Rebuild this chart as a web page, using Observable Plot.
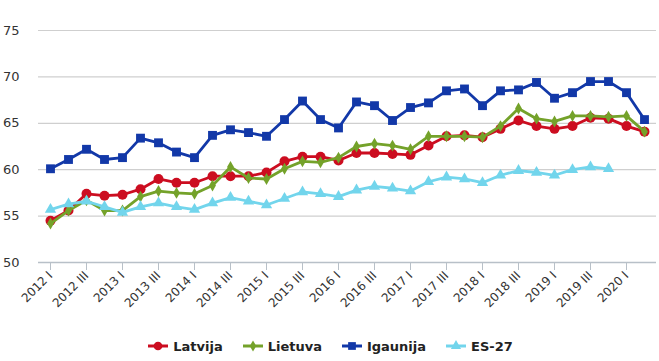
<!DOCTYPE html>
<html>
<head>
<meta charset="utf-8">
<script src="https://cdn.jsdelivr.net/npm/d3@7"></script>
<script src="https://cdn.jsdelivr.net/npm/@observablehq/plot@0.6"></script>
<style>
  html, body { margin: 0; padding: 0; background: #fff; }
  #chart { width: 659px; }
  .legend { display: flex; justify-content: center; align-items: center; gap: 20px; height: 36px; margin-top: 3px;
    font-family: "DejaVu Sans", sans-serif; font-weight: bold; font-size: 13px; color: #222; padding-left: 2px; }
  .legend .item { display: flex; align-items: center; gap: 5px; }
</style>
</head>
<body>
<div id="chart"></div>
<script>
const quarters = [
  "2012 I","2012 II","2012 III","2012 IV",
  "2013 I","2013 II","2013 III","2013 IV",
  "2014 I","2014 II","2014 III","2014 IV",
  "2015 I","2015 II","2015 III","2015 IV",
  "2016 I","2016 II","2016 III","2016 IV",
  "2017 I","2017 II","2017 III","2017 IV",
  "2018 I","2018 II","2018 III","2018 IV",
  "2019 I","2019 II","2019 III","2019 IV",
  "2020 I","2020 II"
];
const tickLabels = ["2012 I","2012 III","2013 I","2013 III","2014 I","2014 III","2015 I","2015 III","2016 I","2016 III","2017 I","2017 III","2018 I","2018 III","2019 I","2019 III","2020 I"];
const yTicks = [50, 55, 60, 65, 70, 75];

const latvija  = [54.5,55.6,57.4,57.2,57.3,57.9,59.0,58.6,58.6,59.3,59.3,59.3,59.7,60.9,61.4,61.4,61.0,61.8,61.8,61.7,61.6,62.6,63.6,63.7,63.5,64.4,65.3,64.7,64.4,64.7,65.6,65.5,64.7,64.1];
const lietuva  = [54.2,55.6,56.7,55.6,55.6,57.1,57.7,57.5,57.4,58.3,60.3,59.1,59.0,60.1,60.9,60.8,61.3,62.5,62.8,62.6,62.2,63.6,63.6,63.6,63.5,64.7,66.6,65.5,65.2,65.8,65.8,65.7,65.8,64.1];
const igaunija = [60.1,61.1,62.2,61.1,61.3,63.4,62.9,61.9,61.3,63.7,64.3,64.0,63.6,65.4,67.4,65.4,64.5,67.3,66.9,65.3,66.7,67.2,68.5,68.7,66.9,68.5,68.6,69.4,67.7,68.3,69.5,69.5,68.3,65.4];
const es27     = [55.7,56.3,56.6,56.0,55.4,56.0,56.4,56.0,55.7,56.4,57.0,56.6,56.2,56.9,57.6,57.4,57.1,57.8,58.2,58.0,57.7,58.7,59.2,59.0,58.6,59.4,59.9,59.7,59.4,60.0,60.3,60.1];

const seriesNames = ["Latvija", "Lietuva", "Igaunija", "ES-27"];
const seriesValues = [latvija, lietuva, igaunija, es27];
const colors = ["#cc0d20", "#74a22a", "#1238a8", "#72d5ec"];
const symbols = ["circle", "diamond", "square", "triangle"];
const symbolR = [5, 3.6, 5, 4.2];

const seriesRows = seriesNames.map((name, s) =>
  seriesValues[s].map((v, i) => ({ series: name, q: quarters[i], v })));

const lineMarks = [];
seriesRows.forEach((data, s) => {
  lineMarks.push(Plot.line(data, { x: "q", y: "v", stroke: colors[s], strokeWidth: 2.8 }));
  lineMarks.push(Plot.dot(data, { x: "q", y: "v", fill: colors[s], symbol: symbols[s], r: symbolR[s], stroke: null }));
});

const chart = Plot.plot({
  width: 659,
  height: 325,
  marginLeft: 38,
  marginRight: 3,
  marginTop: 30,
  marginBottom: 63,
  style: { fontFamily: "DejaVu Sans, sans-serif", fontSize: "12px", color: "#333", background: "#fff" },
  x: { type: "point", domain: quarters, padding: 0.44 },
  y: { domain: [50, 75] },
  marks: [
    Plot.ruleY(yTicks.filter(d => d > 50), { stroke: "#cfcfcf", strokeWidth: 1.2 }),
    Plot.ruleY([50], { stroke: "#b8c0c8", strokeWidth: 1.5 }),
    Plot.axisX({ ticks: tickLabels, tickRotate: -45, tickSize: 8, tickPadding: 3, stroke: "#b8c0c8", fill: "#333", fontSize: 12, label: null }),
    Plot.axisY({ ticks: yTicks, tickSize: 0, tickPadding: 19, fill: "#333", fontSize: 13, label: null }),
    ...lineMarks
  ]
});
document.getElementById("chart").appendChild(chart);

// Legend
const legend = document.createElement("div");
legend.className = "legend";
const symPaths = {
  circle: d3.symbol(d3.symbolCircle, 60)(),
  diamond: d3.symbol(d3.symbolDiamond, 36)(),
  square: d3.symbol(d3.symbolSquare, 60)(),
  triangle: d3.symbol(d3.symbolTriangle, 45)()
};
seriesNames.forEach((name, s) => {
  const item = document.createElement("div");
  item.className = "item";
  item.innerHTML = `<svg width="20" height="12" viewBox="-10 -6 20 12"><line x1="-10" x2="10" y1="0" y2="0" stroke="${colors[s]}" stroke-width="3"/><path d="${symPaths[symbols[s]]}" fill="${colors[s]}"/></svg><span>${name}</span>`;
  legend.appendChild(item);
});
document.getElementById("chart").appendChild(legend);
</script>
</body>
</html>
